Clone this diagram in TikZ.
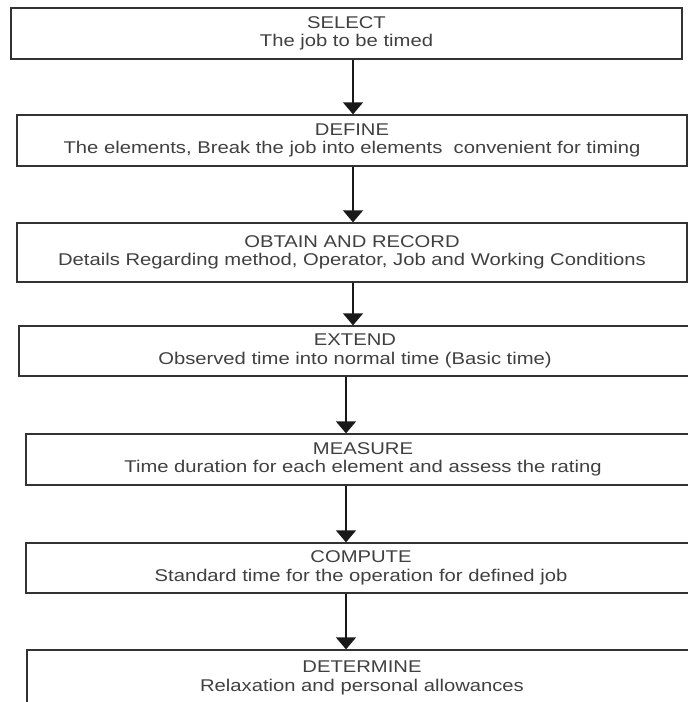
\documentclass[tikz,border=0pt]{standalone}
\usepackage{fontspec}
\setmainfont{Liberation Sans}[FakeStretch=1.19]
\usetikzlibrary{arrows.meta}
\begin{document}
\begin{tikzpicture}[x=1pt,y=-1pt,
    stage/.style={draw=black!80,line width=1.3pt,rectangle,minimum height=51pt,inner sep=0pt,align=center,text=black!75,font=\fontsize{17}{18.5}\selectfont,
        execute at begin node={\rule{0pt}{19pt}},execute at end node={\rule[-4pt]{0pt}{4pt}}},
    flow/.style={line width=1.3pt,draw=black!90,-{Triangle[width=20pt,length=12pt]}}]
        %% Frame
        \useasboundingbox (0,0) rectangle (688,702);
        %% Stages
        \node[stage,minimum width=671pt] (select) at (346.5,33.5) {SELECT\\The job to be timed};
        \node[stage,minimum width=670pt] (define) at (352,140.5) {DEFINE\\The elements, Break the job into elements\ \ convenient for timing};
        \node[stage,minimum width=670pt,minimum height=59pt] (obtain) at (352,252.5) {OBTAIN AND RECORD\\Details Regarding method, Operator, Job and Working Conditions};
        \node[stage,minimum width=672pt,minimum height=50pt] (extend) at (355,351) {EXTEND\\Observed time into normal time (Basic time)};
        \node[stage,minimum width=674pt] (measure) at (363,459.5) {MEASURE\\Time duration for each element and assess the rating};
        \node[stage,minimum width=670pt,minimum height=50pt] (compute) at (361,568) {COMPUTE\\Standard time for the operation for defined job};
        \node[stage,minimum width=670pt,minimum height=56pt] (determine) at (362,678) {DETERMINE\\Relaxation and personal allowances};
        %% Arrows
        \coordinate (upper) at (353,0);
        \coordinate (lower) at (346,0);
        \foreach \a/\b/\s in {select/define/upper,define/obtain/upper,obtain/extend/upper,extend/measure/lower,measure/compute/lower,compute/determine/lower}
            \draw[flow] (\a.south -| \s) -- (\b.north -| \s);
    \end{tikzpicture}
\end{document}
